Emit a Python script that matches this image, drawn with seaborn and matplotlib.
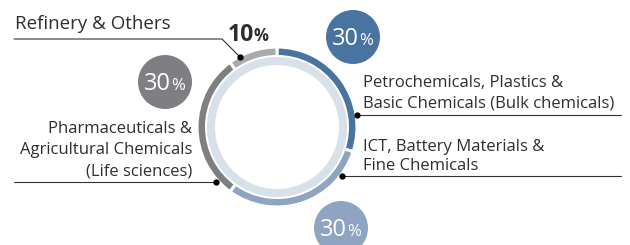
import matplotlib
matplotlib.use("Agg")
import matplotlib.pyplot as plt
import seaborn as sns

sns.set_style("white")
plt.rcParams['font.family'] = ['Open Sans', 'DejaVu Sans']

# data
segments = [["Petrochemicals, Plastics &", "Basic Chemicals (Bulk chemicals)"],
            ["ICT, Battery Materials &", "Fine Chemicals"],
            ["Pharmaceuticals &", "Agricultural Chemicals", "(Life sciences)"],
            ["Refinery & Others"]]
shares = [30, 30, 30, 10]
share_labels = ["30", "30", "30", "10"]
seg_colors = ["#4a74a0", "#8ea4c2", "#7e7f82", "#a8aaad"]
ring_color = "#d8e1e9"
text_color = "#2e2e2e"

W, H = 630, 245


def Y(y):
    # pixel row -> data y
    return H - y


fig = plt.figure(figsize=(W / 100, H / 100), dpi=100)
ax = fig.add_axes([0, 0, 1, 1])

cx, cy = 277, 127
ax.pie(shares, colors=seg_colors, startangle=90, counterclock=False,
       radius=80, center=(cx, Y(cy)),
       wedgeprops=dict(width=9.5, edgecolor="white", linewidth=2.2))
ax.pie([1], colors=[ring_color], radius=70, center=(cx, Y(cy)),
       wedgeprops=dict(width=8, linewidth=0))

ax.set_xlim(0, W)
ax.set_ylim(0, H)
ax.set_aspect("equal")
ax.set_axis_off()


def bubble(x, y, color, label):
    ax.add_patch(plt.Circle((x, Y(y)), 27, color=color, zorder=3, lw=0))
    ax.text(x + 6, Y(y + 8), label, color="white", fontsize=17,
            ha="right", va="baseline", zorder=4)
    ax.text(x + 6, Y(y + 8), "%", color="white", fontsize=12,
            ha="left", va="baseline", zorder=4)


bubble(353, 37, seg_colors[0], share_labels[0])
bubble(341, 228, seg_colors[1], share_labels[1])
bubble(165, 82, seg_colors[2], share_labels[2])

# 10% label
ax.text(254, Y(41), share_labels[3], color=text_color, fontsize=16.5, fontweight="bold",
        ha="right", va="baseline")
ax.text(254, Y(41), "%", color=text_color, fontsize=12, fontweight="bold",
        ha="left", va="baseline")


def label(x, baselines, lines, ha="left", fs=12):
    for b, t in zip(baselines, lines):
        ax.text(x, Y(b), t, color=text_color, fontsize=fs, ha=ha, va="baseline")


lc = "#333333"
# Refinery
label(15, [29], segments[3], fs=13.5)
ax.plot([14, 222, 240], [Y(39), Y(39), Y(57)], color=lc, lw=0.8)
ax.plot([240], [Y(57)], "o", color="black", ms=3.5)

# Pharma
label(192, [133, 154, 175], segments[2], ha="right")
ax.plot([14, 216], [Y(182), Y(182)], color=lc, lw=0.8)
ax.plot([216], [Y(182)], "o", color="black", ms=3.5)

# Petrochem
label(363, [87, 108], segments[0])
ax.plot([357, 621], [Y(115), Y(115)], color=lc, lw=0.8)
ax.plot([357], [Y(115)], "o", color="black", ms=3.5)

# ICT
label(363, [151, 170], segments[1])
ax.plot([342, 621], [Y(176), Y(176)], color=lc, lw=0.8)
ax.plot([342], [Y(176)], "o", color="black", ms=3.5)

fig.savefig("out.png", dpi=100)
